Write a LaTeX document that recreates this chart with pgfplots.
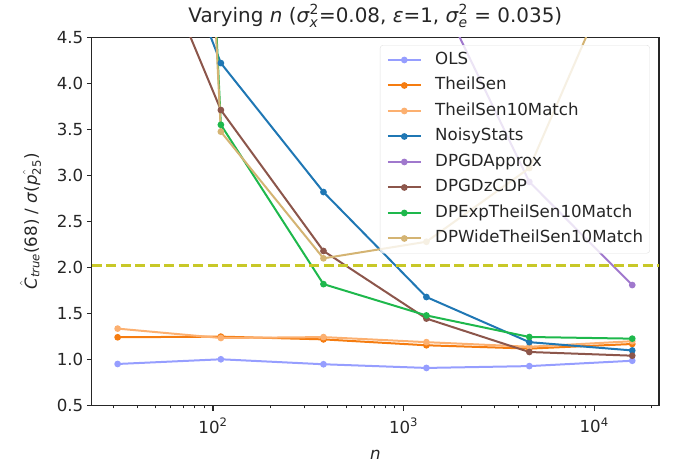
\documentclass[border=0pt]{standalone}
\usepackage{fontspec}
\usepackage{amsmath}
\usepackage{pgfplots}
\pgfplotsset{compat=1.18}
\setmainfont{DejaVu Sans}
\definecolor{cOLS}{RGB}{150,158,255}
\definecolor{cTS}{RGB}{245,124,16}
\definecolor{cTS10}{RGB}{252,176,112}
\definecolor{cNoisy}{RGB}{31,119,180}
\definecolor{cGDA}{RGB}{160,120,205}
\definecolor{cGDZ}{RGB}{140,86,75}
\definecolor{cExp}{RGB}{30,184,76}
\definecolor{cWide}{RGB}{212,180,115}
\definecolor{cOlive}{RGB}{200,200,40}
\definecolor{txt}{RGB}{38,38,38}
\begin{document}
\begin{tikzpicture}
\begin{axis}[
  scale only axis, width=567.3bp, height=368.4bp,
  xmode=log, xmin=23.1, xmax=21900, ymin=0.5, ymax=4.5,
  xtick={100,1000,10000},
  xticklabels={10$^{\text{2}}$,10$^{\text{3}}$,10$^{\text{4}}$},
  minor xtick={30,40,50,60,70,80,90,200,300,400,500,600,700,800,900,2000,3000,4000,5000,6000,7000,8000,9000,20000},
  ytick={0.5,1.0,1.5,2.0,2.5,3.0,3.5,4.0,4.5},
  yticklabel style={/pgf/number format/.cd, fixed, fixed zerofill, precision=1, assume math mode=true},
  xticklabel style={yshift=-4bp},
  tick align=outside, tick pos=left,
  major tick length=4.9bp, minor tick length=2.8bp,
  major tick style={line width=1.1bp, txt},
  minor tick style={line width=0.8bp, txt},
  axis line style={line width=1.1bp, txt},
  ticklabel style={font=\fontsize{16.7}{20}\selectfont, text=txt},
  label style={font=\fontsize{16.7}{20}\selectfont, text=txt},
  xlabel={\textit{n}}, xlabel shift=10bp,
  ylabel={$\hat{\text{\itshape C}}_{\text{\itshape true}}$(68) / \textit{σ}($\hat{\text{\itshape p}_{\text{25}}}$)},
  ylabel shift=9bp,
  title={Varying \textit{n} (\textit{σ}$^{\text{2}}_{\text{\itshape x}}$=0.08, \textit{ε}=1, \textit{σ}$^{\text{2}}_{\text{\itshape e}}$ = 0.035)},
  title style={font=\fontsize{20}{24}\selectfont, text=txt},
  every axis plot/.append style={line width=2bp, mark=*, mark size=2.3bp},
  legend cell align=left,
  legend image code/.code={\draw[mark repeat=2,mark phase=2] plot coordinates {(0bp,0bp) (16.5bp,0bp) (33bp,0bp)};},
  legend style={at={(0.984,0.979)}, anchor=north east, draw=black!12, fill=white, fill opacity=0.8, text opacity=1,
    rounded corners=3bp, inner xsep=6.7bp, inner ysep=7bp, row sep=10bp, column sep=13.4bp,
    font=\fontsize{16.7}{20}\selectfont, text=txt,
    nodes={inner sep=0pt, text height=12bp, text depth=3.5bp}},
]
\addplot[color=cOLS] coordinates {(31.6,0.953) (110,1.004) (380,0.95) (1318,0.91) (4571,0.93) (15849,0.988)};
\addlegendentry{OLS}
\addplot[color=cTS] coordinates {(31.6,1.243) (110,1.25) (380,1.22) (1318,1.156) (4571,1.12) (15849,1.17)};
\addlegendentry{TheilSen}
\addplot[color=cTS10] coordinates {(31.6,1.337) (110,1.235) (380,1.245) (1318,1.19) (4571,1.14) (15849,1.2)};
\addlegendentry{TheilSen10Match}
\addplot[color=cNoisy] coordinates {(31.6,7.1) (110,4.22) (380,2.82) (1318,1.68) (4571,1.19) (15849,1.10)};
\addlegendentry{NoisyStats}
\addplot[color=cGDA] coordinates {(31.6,60) (110,30) (380,12) (1318,5.25) (4571,2.93) (15849,1.81)};
\addlegendentry{DPGDApprox}
\addplot[color=cGDZ] coordinates {(31.6,6.4) (110,3.71) (380,2.18) (1318,1.446) (4571,1.083) (15849,1.043)};
\addlegendentry{DPGDzCDP}
\addplot[color=cExp] coordinates {(31.6,27) (110,3.55) (380,1.82) (1318,1.48) (4571,1.246) (15849,1.228)};
\addlegendentry{DPExpTheilSen10Match}
\addplot[color=cWide] coordinates {(31.6,26) (110,3.475) (380,2.10) (1318,2.28) (4571,3.08) (15849,5.66)};
\addlegendentry{DPWideTheilSen10Match}
\addplot[color=cOlive, line width=2.8bp, no marks, dash pattern=on 10bp off 4.5bp, forget plot] coordinates {(23.1,2.02) (21900,2.02)};
\end{axis}
\pgfresetboundingbox
\path ([shift={(-91.7bp,-61.3bp)}]current axis.south west) rectangle ([shift={(17bp,37.3bp)}]current axis.north east);
\end{tikzpicture}
\end{document}
